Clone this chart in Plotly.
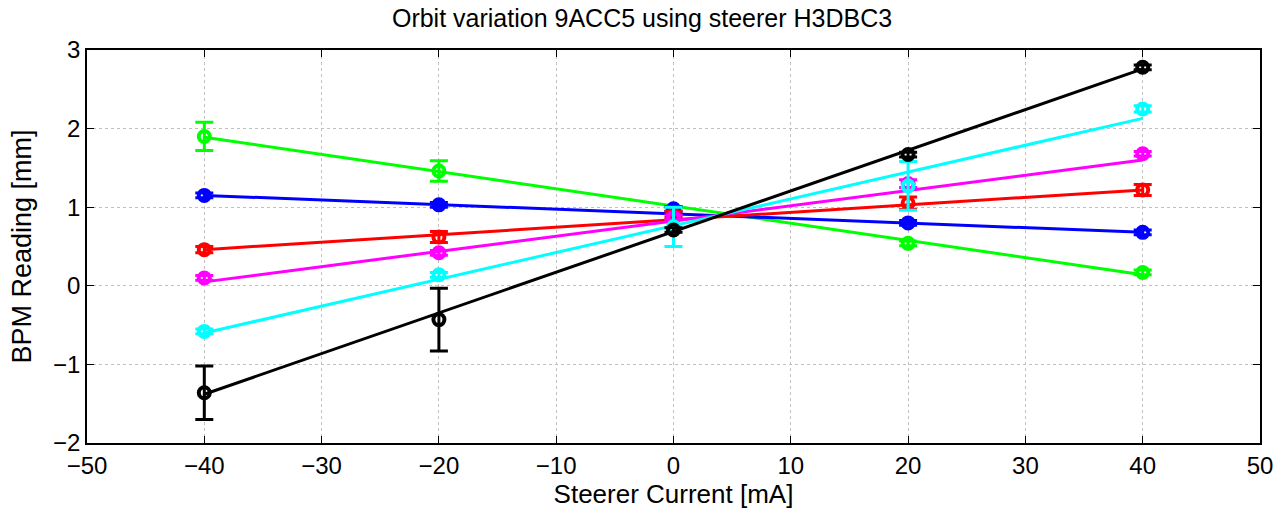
import plotly.graph_objects as go

current = [-40, -20, 0, 20, 40]

green = [1.90, 1.46, 0.97, 0.54, 0.17]
green_err = [0.18, 0.13, 0.03, 0.03, 0.03]
blue = [1.15, 1.03, 0.98, 0.80, 0.68]
blue_err = [0.03, 0.03, 0.03, 0.03, 0.03]
red = [0.46, 0.62, 0.91, 1.05, 1.22]
red_err = [0.04, 0.07, 0.04, 0.08, 0.07]
magenta = [0.10, 0.42, 0.87, 1.30, 1.68]
magenta_err = [0.03, 0.03, 0.03, 0.05, 0.03]
cyan = [-0.58, 0.14, 0.75, 1.27, 2.25]
cyan_err = [0.03, 0.03, 0.25, 0.31, 0.04]
black = [-1.36, -0.43, 0.71, 1.67, 2.78]
black_err = [0.34, 0.40, 0.03, 0.03, 0.03]

fit_x = [-40, 40]
green_fit = [1.89, 0.14]
blue_fit = [1.15, 0.68]
red_fit = [0.46, 1.22]
magenta_fit = [0.05, 1.60]
cyan_fit = [-0.60, 2.13]
black_fit = [-1.38, 2.76]

series = [
    ("#00ff00", green, green_err, green_fit),
    ("#0000ff", blue, blue_err, blue_fit),
    ("#ff0000", red, red_err, red_fit),
    ("#ff00ff", magenta, magenta_err, magenta_fit),
    ("#00ffff", cyan, cyan_err, cyan_fit),
    ("#000000", black, black_err, black_fit),
]

fig = go.Figure()
for color, vals, errs, fit in series:
    fig.add_trace(go.Scatter(
        x=fit_x, y=fit, mode="lines",
        line=dict(color=color, width=3), showlegend=False, hoverinfo="skip"))
    fig.add_trace(go.Scatter(
        x=current, y=vals, mode="markers",
        marker=dict(symbol="circle-open", size=11, color=color,
                    line=dict(color=color, width=4)),
        error_y=dict(type="data", array=errs, visible=True,
                     color=color, thickness=3, width=9),
        showlegend=False))

font = "Liberation Sans, Arial, sans-serif"
axis_common = dict(
    showline=True, linecolor="black", linewidth=1.5, mirror="ticks",
    ticks="inside", ticklen=7, tickcolor="black", tickwidth=1,
    showgrid=True, gridcolor="#c0c0c0", griddash="dot", gridwidth=1,
    zeroline=False, automargin=False, ticklabeloverflow="allow",
    tickfont=dict(family=font, size=24, color="black"),
)

fig.update_layout(
    width=1279, height=514,
    margin=dict(l=87, r=19, t=50, b=71),
    paper_bgcolor="white", plot_bgcolor="white",
    title=dict(text="Orbit variation 9ACC5 using steerer H3DBC3",
               x=0.502, xanchor="center", y=0.964, yanchor="middle",
               font=dict(family=font, size=25, color="black")),
    xaxis=dict(range=[-50, 50], tickvals=[-50, -40, -30, -20, -10, 0, 10, 20, 30, 40, 50],
               title=dict(text="Steerer Current [mA]", standoff=7,
                          font=dict(family=font, size=26, color="black")),
               **axis_common),
    yaxis=dict(range=[-2, 3], tickvals=[-2, -1, 0, 1, 2, 3],
               title=dict(text="BPM Reading [mm]", standoff=14,
                          font=dict(family=font, size=27, color="black")),
               **axis_common),
)

fig.write_html("out.html", config={"displayModeBar": False},
               post_script="document.body.style.margin='0';document.body.style.overflow='hidden';")
